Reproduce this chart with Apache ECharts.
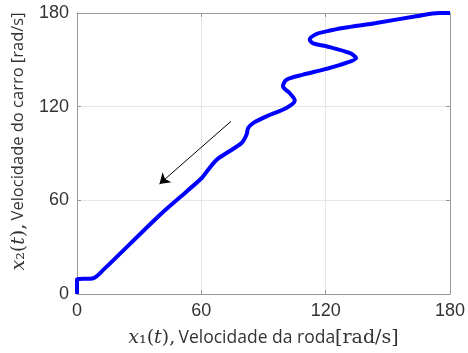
<!DOCTYPE html>
<html>
<head>
<meta charset="utf-8">
<script src="https://cdn.jsdelivr.net/npm/echarts@6/dist/echarts.min.js"></script>
<style>
  html, body { margin: 0; padding: 0; background: #fff; }
  #chart { width: 468px; height: 353px; }
</style>
</head>
<body>
<div id="chart"></div>
<script>
// trajectory x1 (wheel speed) vs x2 (car speed)
var wheelSpeed = [180, 174.8, 163.6, 144.4, 128.3, 120.3, 115.5, 112.3, 113.9, 120.3, 131.5, 134.7, 129.9, 120.3, 109.1, 101.1, 99.4, 102.6, 105.1, 101, 91.4, 85, 82.6, 81.8, 79.4, 72.2, 67.4, 63.3, 60.2, 52.9, 40.1, 12.8, 8.0, 0, 0];
var carSpeed   = [180, 180, 177.9, 173.6, 170.4, 168.2, 166.5, 162.9, 160.6, 158.7, 154.4, 151.2, 148, 144.2, 140.5, 137.3, 133, 128.7, 124, 119.2, 113.8, 109.5, 106.3, 102, 96.7, 90.3, 86, 79.6, 74.3, 65.7, 50.8, 15.6, 10.2, 9.2, 0];
// direction arrow [x1, x2]
var arrowFrom = [74.3, 110.6];
var arrowTo = [39.8, 70.5];

var points = wheelSpeed.map(function (v, i) { return [v, carSpeed[i]]; });

var chartDom = document.getElementById('chart');
var myChart = echarts.init(chartDom);

var tickFont = { fontFamily: 'Liberation Sans', fontSize: 18, color: '#333' };
var mathRich = {
  i: { fontFamily: 'DejaVu Serif', fontStyle: 'italic', fontSize: 19, color: '#333' },
  r: { fontFamily: 'DejaVu Serif', fontSize: 19, color: '#333' },
  s: { fontFamily: 'Open Sans', fontSize: 17.5, color: '#333' },
  ys: { fontFamily: 'Open Sans', fontSize: 16.5, color: '#333' }
};

function baseAxis(pos, showLabels) {
  return {
    type: 'value',
    position: pos,
    min: 0,
    max: 180,
    interval: 60,
    axisLine: { show: true, onZero: false, lineStyle: { color: '#999', width: 1 } },
    axisTick: { show: true, inside: true, length: 4, lineStyle: { color: '#999' } },
    axisLabel: showLabels ? Object.assign({ margin: 8 }, tickFont) : { show: false },
    splitLine: { show: showLabels, lineStyle: { color: '#e6e6e6', width: 1 } }
  };
}

var xBottom = baseAxis('bottom', true);
xBottom.name = '{i|x}{r|₁(}{i|t}{r|),} {s|Velocidade da roda}{r|[rad/s]}';
xBottom.nameLocation = 'middle';
xBottom.nameGap = 35;
xBottom.nameTextStyle = { rich: mathRich };

var yLeft = baseAxis('left', true);
yLeft.name = '{i|x}{r|₂(}{i|t}{r|),} {ys|Velocidade do carro [rad/s]}';
yLeft.nameLocation = 'middle';
yLeft.nameGap = 38;
yLeft.nameTextStyle = { rich: mathRich, padding: [0, 0, 0, 24] };

var option = {
  animation: false,
  backgroundColor: '#fff',
  grid: { left: 77, right: 17, top: 13, bottom: 59 },
  xAxis: [xBottom, baseAxis('top', false)],
  yAxis: [yLeft, baseAxis('right', false)],
  series: [
    {
      type: 'line',
      data: points,
      showSymbol: false,
      smooth: 0.3,
      lineStyle: { color: '#0000ff', width: 4 },
      markLine: {
        silent: true,
        symbol: ['none', 'arrow'],
        symbolSize: 10,
        label: { show: false },
        lineStyle: { color: '#000', width: 1, type: 'solid' },
        data: [[{ coord: arrowFrom }, { coord: arrowTo }]]
      }
    }
  ]
};
myChart.setOption(option);
</script>
</body>
</html>
